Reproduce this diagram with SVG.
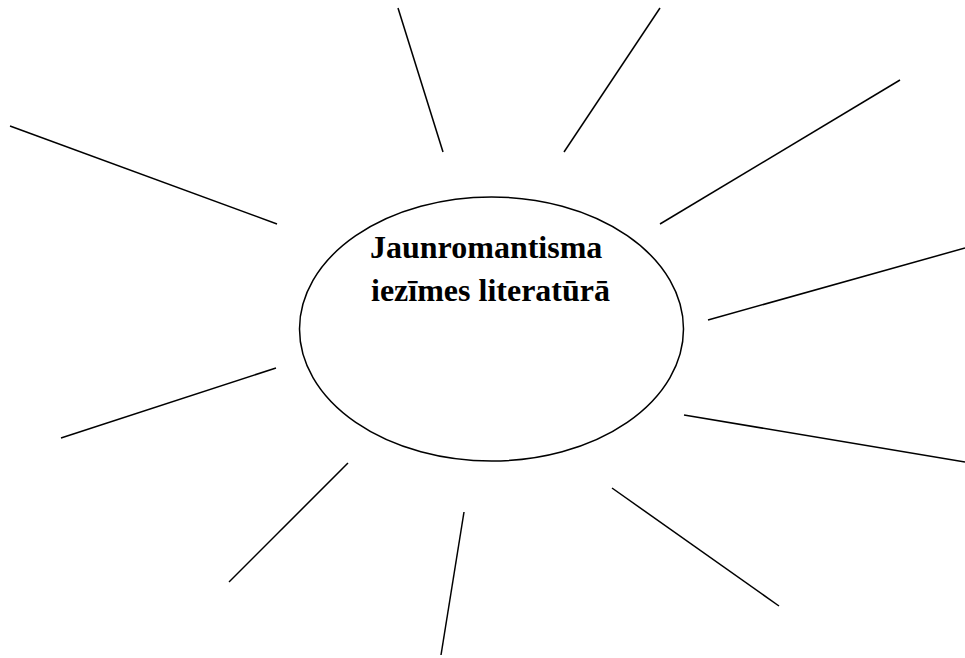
<svg xmlns="http://www.w3.org/2000/svg" width="965" height="658" viewBox="0 0 965 658">
<style>
.ray{stroke:#000;stroke-width:1.5;fill:none}
.t{font-family:"Liberation Serif","Times New Roman",serif;font-weight:bold;font-size:32px;fill:#000}
</style>
<rect width="965" height="658" fill="#fff"/>
<g id="center">
<ellipse cx="491.5" cy="329" rx="192" ry="132" fill="#fff" stroke="#000" stroke-width="1.5"/>
<text class="t" x="370" y="258">Jaunromantisma</text>
<text class="t" x="371" y="301">iezīmes literatūrā</text>
</g>
<g id="connectors">
<line class="ray" x1="398" y1="8" x2="443" y2="152"/>
<line class="ray" x1="660" y1="8" x2="564" y2="152"/>
<line class="ray" x1="900" y1="80" x2="660" y2="224"/>
<line class="ray" x1="965" y1="248" x2="708" y2="320"/>
<line class="ray" x1="684" y1="415" x2="965" y2="462"/>
<line class="ray" x1="612" y1="488" x2="779" y2="606"/>
<line class="ray" x1="464" y1="512" x2="441" y2="655"/>
<line class="ray" x1="348" y1="463" x2="229" y2="582"/>
<line class="ray" x1="276" y1="368" x2="61" y2="438"/>
<line class="ray" x1="10" y1="126" x2="277" y2="224"/>
</g>
</svg>
